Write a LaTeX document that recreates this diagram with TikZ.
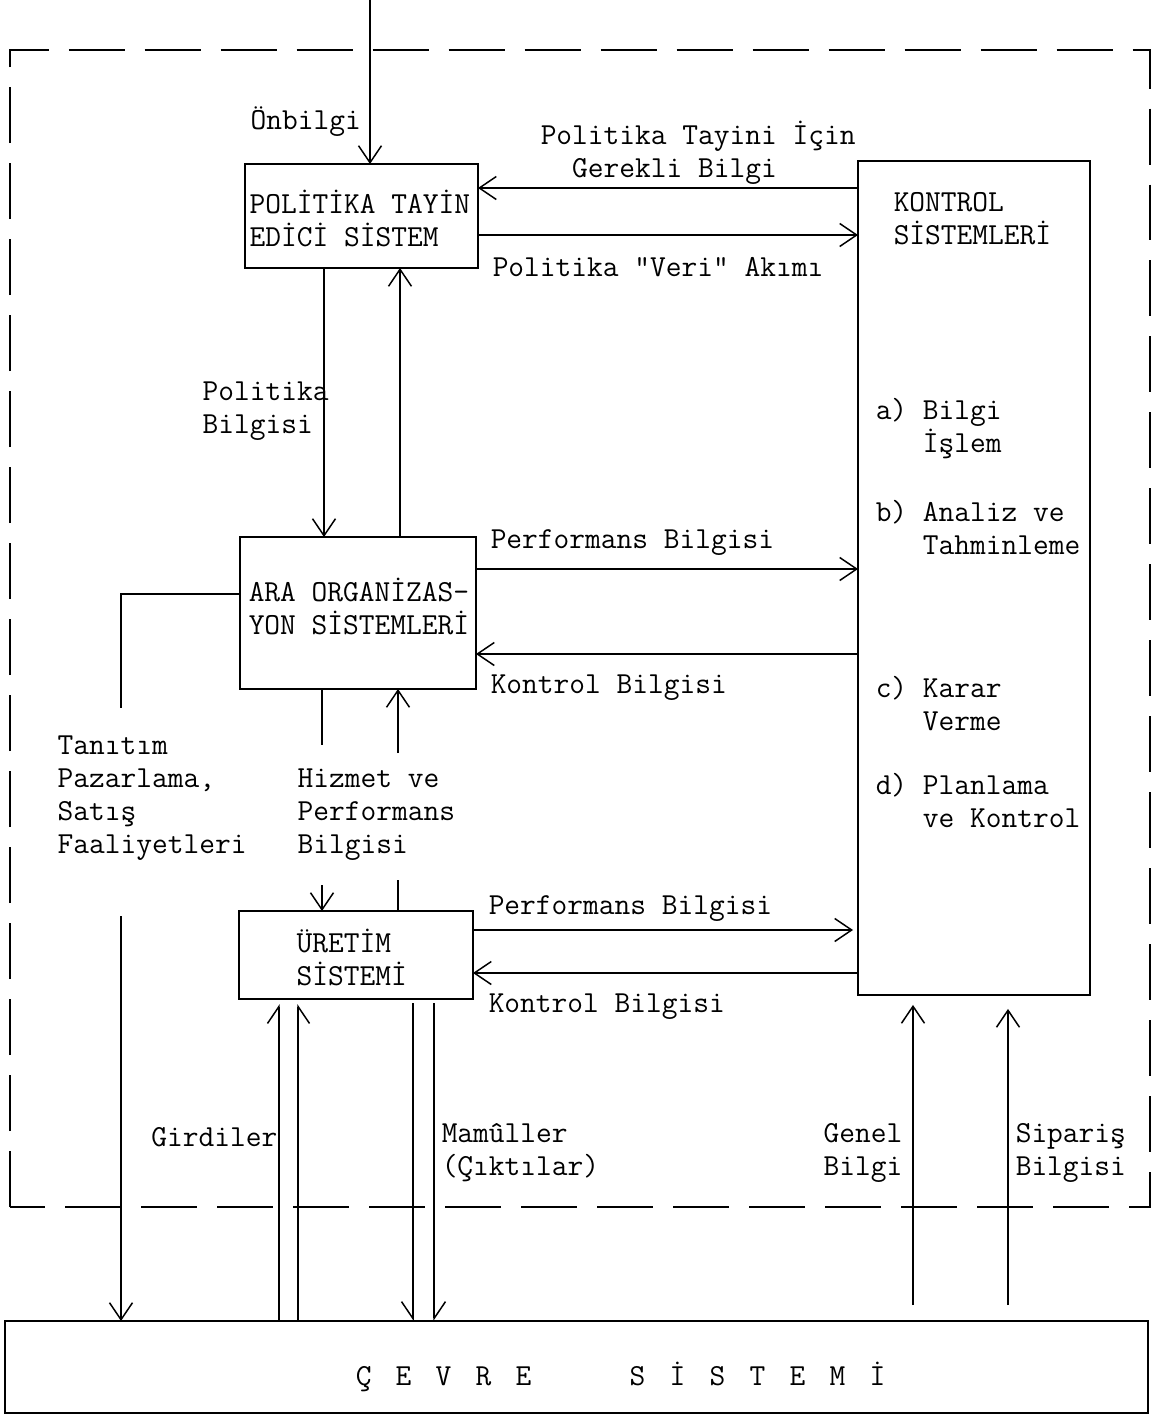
\documentclass[tikz,border=0pt]{standalone}
\usepackage{fontspec}
\usetikzlibrary{arrows.meta}
\begin{document}
\begin{tikzpicture}[x=0.02cm,y=-0.02cm,
  every path/.style={line width=0.85pt},
  box/.style={draw,inner sep=0pt,outer sep=0pt,line width=0.9pt},
  lbl/.style={inner sep=0pt,anchor=west,align=left,font=\ttfamily\fontsize{17.4}{18.8}\selectfont},
  lblr/.style={lbl,anchor=east,align=right},
  arr/.style={-{Straight Barb[length=0.34cm,width=0.46cm,line width=0.85pt]}},
  harpL/.style={-{Straight Barb[length=0.34cm,width=0.46cm,harpoon,line width=0.85pt]}},
  harpR/.style={-{Straight Barb[length=0.34cm,width=0.46cm,harpoon,swap,line width=0.85pt]}},
  frame/.style={dash pattern=on 1.12cm off 0.4cm,line width=0.9pt}]
\useasboundingbox (0,0) rectangle (1161,1417);
\fill[white] (0,0) rectangle (1161,1417);

% dashed frame
\draw[frame] (10,1207) -- (10,50) -- (1150,50) -- (1150,1207) -- cycle;

% boxes
\node[box,minimum width=4.66cm,minimum height=2.08cm] (pol) at (361.5,216) {};
\node[box,minimum width=4.64cm,minimum height=16.68cm] (kon) at (974,578) {};
\node[box,minimum width=4.72cm,minimum height=3.04cm] (ara) at (358,613) {};
\node[box,minimum width=4.68cm,minimum height=1.76cm] (ure) at (356,955) {};
\node[box,minimum width=22.86cm,minimum height=1.84cm] (cev) at (576.5,1367) {};

% box texts
\node[lbl] (poltxt) at (249,218) {POLİTİKA TAYİN\\EDİCİ SİSTEM};
\node[lbl] (kontxt) at (893,219) {KONTROL\\SİSTEMLERİ};
\node[lbl] (kona) at (875,429) {a) Bilgi\\\ \ \ İşlem};
\node[lbl] (konb) at (875,527) {b) Analiz ve\\\ \ \ Tahminleme};
\node[lbl] (konc) at (875,704) {c) Karar\\\ \ \ Verme};
\node[lbl] (kond) at (875,800) {d) Planlama\\\ \ \ ve Kontrol};
\node[lbl] (aratxt) at (248,606) {ARA ORGANİZAS-\\YON SİSTEMLERİ};
\node[lbl] (uretxt) at (296,957) {ÜRETİM\\SİSTEMİ};
\node[lbl] (cevtxt) at (355,1377) {\makebox[0.8cm][l]{Ç}\makebox[0.8cm][l]{E}\makebox[0.8cm][l]{V}\makebox[0.8cm][l]{R}\makebox[2.28cm][l]{E}\makebox[0.8cm][l]{S}\makebox[0.8cm][l]{İ}\makebox[0.8cm][l]{S}\makebox[0.8cm][l]{T}\makebox[0.8cm][l]{E}\makebox[0.8cm][l]{M}İ};

% free ends
\coordinate (topin) at (370,0);
\coordinate (tan1) at (121,708);
\coordinate (tan2) at (121,916);
\coordinate (hz1) at (322,745);
\coordinate (hz2) at (322,885);
\coordinate (hz3) at (398,753);
\coordinate (hz4) at (398,880);
\coordinate (gen0) at (913,1305);
\coordinate (sip0) at (1008,1305);

% connectors
\draw[arr] (topin) -- (topin |- pol.north);
\draw[arr] (kon.west |- 0,188) -- (pol.east |- 0,188);
\draw[arr] (pol.east |- 0,235) -- (kon.west |- 0,235);
\draw[arr] (pol.south -| 324,0) -- (ara.north -| 324,0);
\draw[arr] (ara.north -| 400,0) -- (pol.south -| 400,0);
\draw[arr] (ara.east |- 0,569) -- (kon.west |- 0,569);
\draw[arr] (kon.west |- 0,654) -- (ara.east |- 0,654);
\draw (ara.west |- 0,594) -- (tan1 |- 0,594) -- (tan1);
\draw[arr] (tan2) -- (cev.north -| tan2);
\draw (ara.south -| hz1) -- (hz1);
\draw[arr] (hz2) -- (ure.north -| hz2);
\draw[arr] (hz3) -- (ara.south -| hz3);
\draw (ure.north -| hz4) -- (hz4);
\draw[arr,shorten >=0.1cm] (ure.east |- 0,930) -- (kon.west |- 0,930);
\draw[arr] (kon.west |- 0,973) -- (ure.east |- 0,973);
\draw[harpL,shorten >=0.1cm] (cev.north -| 279,0) -- (ure.south -| 279,0);
\draw[harpR,shorten >=0.1cm] (cev.north -| 298,0) -- (ure.south -| 298,0);
\draw[harpR,shorten <=0.08cm] (ure.south -| 413,0) -- (cev.north -| 413,0);
\draw[harpL,shorten <=0.08cm] (ure.south -| 434,0) -- (cev.north -| 434,0);
\draw[arr,shorten >=0.2cm] (gen0) -- (kon.south -| gen0);
\draw[arr,shorten >=0.28cm] (sip0) -- (kon.south -| sip0);

% labels
\node[lbl] (onb) at (250,122) {Önbilgi};
\node[lbl] (ger) at (540,153) {Politika Tayini İçin\\\ \ Gerekli Bilgi};
\node[lbl] (veri) at (492,267) {Politika "Veri" Akımı};
\node[lbl] (polb) at (202,411) {Politika\\Bilgisi};
\node[lbl] (perf1) at (490,543) {Performans Bilgisi};
\node[lbl] (kont1) at (490,688) {Kontrol Bilgisi};
\node[lbl] (tanl) at (57,798) {Tanıtım\\Pazarlama,\\Satış\\Faaliyetleri};
\node[lbl] (hizl) at (297,815) {Hizmet ve\\Performans\\Bilgisi};
\node[lbl] (perf2) at (488,909) {Performans Bilgisi};
\node[lbl] (kont2) at (488,1007) {Kontrol Bilgisi};
\node[lblr] (gird) at (278,1137) {Girdiler};
\node[lbl] (mam) at (441,1153) {Mamûller\\(Çıktılar)};
\node[lblr] (genl) at (903,1153) {Genel\\Bilgi};
\node[lbl] (sipl) at (1015,1153) {Sipariş\\Bilgisi};
\end{tikzpicture}
\end{document}
